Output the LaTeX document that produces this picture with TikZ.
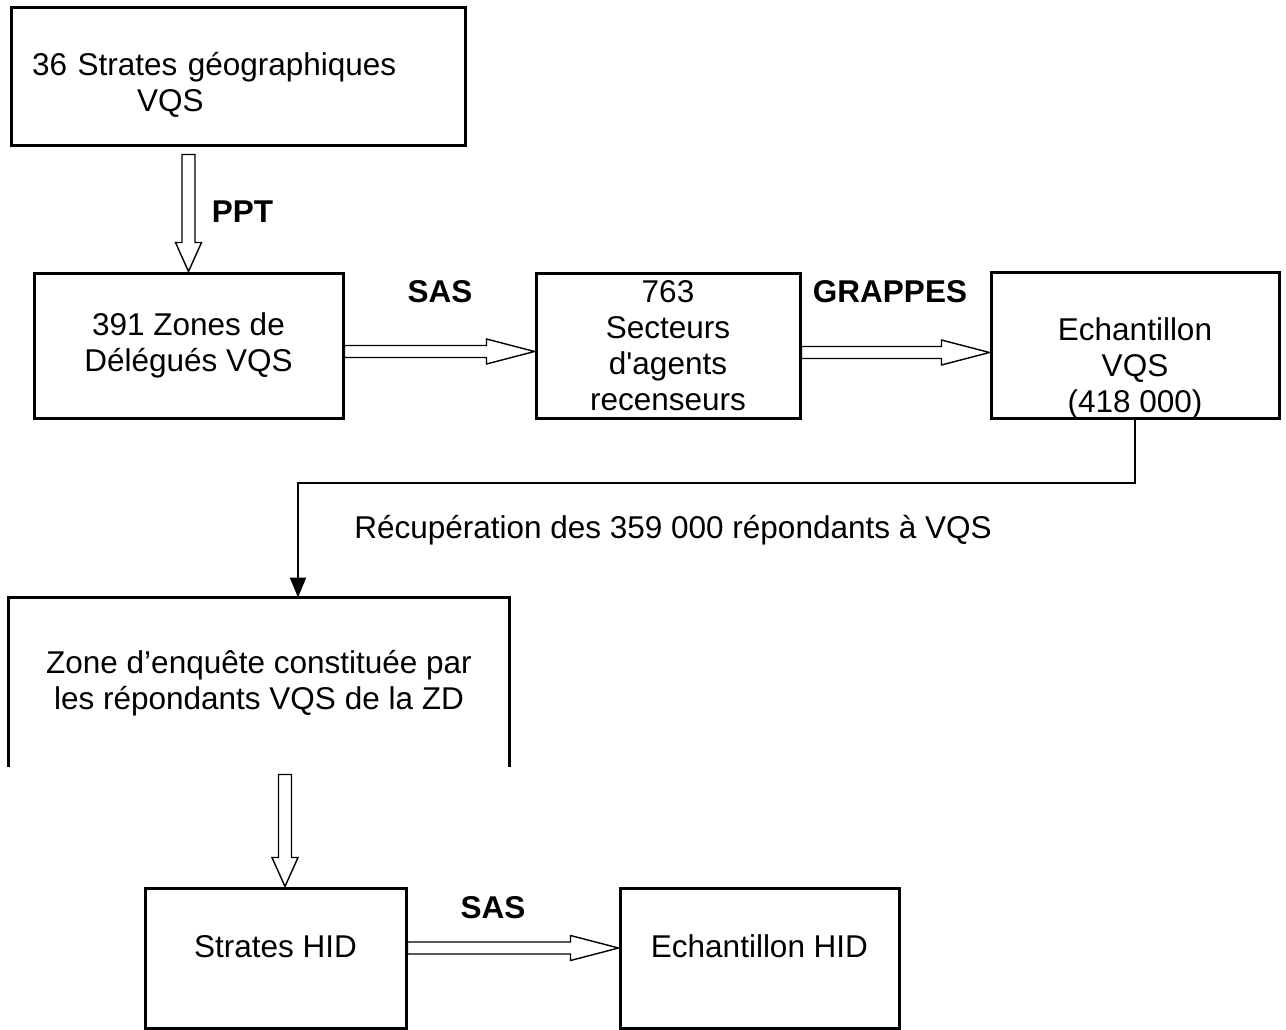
\documentclass[tikz,border=0pt]{standalone}
\usepackage{fontspec}
\setmainfont{Liberation Sans}[Ligatures=TeXOff]
\usetikzlibrary{arrows.meta,calc}
\newcommand\fs{\fontsize{31.5}{36}\selectfont}
\tikzset{
  box/.style={draw, line width=3pt, inner sep=0pt, align=center, font=\fs},
  lbl/.style={font=\fs\bfseries, inner sep=0pt},
  txt/.style={font=\fs, inner sep=0pt},
  hollow/.style={draw, line width=1.4pt, fill=white, line join=miter},
  conn/.style={line width=2pt},
}
% horizontal hollow arrow: #1 start, #2 tip
\newcommand\harr[2]{\draw[hollow] let \p1=(#1),\p2=(#2) in
  (\x1,\y2+6pt) -- (\x2-48pt,\y2+6pt) -- (\x2-48pt,\y2+12.5pt) -- (\x2,\y2)
  -- (\x2-48pt,\y2-12.5pt) -- (\x2-48pt,\y2-6pt) -- (\x1,\y2-6pt) -- cycle;}
% vertical hollow arrow: #1 start (y), #2 tip
\newcommand\varr[2]{\draw[hollow] let \p1=(#1),\p2=(#2) in
  (\x2-6.5pt,\y1) -- (\x2-6.5pt,\y2+29pt) -- (\x2-13pt,\y2+29pt) -- (\x2,\y2)
  -- (\x2+13pt,\y2+29pt) -- (\x2+6.5pt,\y2+29pt) -- (\x2+6.5pt,\y1) -- cycle;}
\begin{document}
\begin{tikzpicture}[x=1pt,y=-1pt]
\useasboundingbox (0,0) rectangle (1286,1030);
% boxes
\node[box, minimum width=454pt, minimum height=138pt, text width=412pt, align=left]
  (b1) at (238,77) {\mbox{}\\[3pt]36 Strates géographiques\\\hspace*{105pt}VQS};
\node[box, minimum width=309pt, minimum height=145pt] (b2) at (188.5,345.5)
  {391 Zones de\\Délégués VQS};
\node[box, minimum width=264pt, minimum height=145pt] (b3) at (668,345.5)
  {763\\Secteurs\\d'agents\\recenseurs};
\node[box, minimum width=288pt, minimum height=145pt] (b4) at (1135,345.5)
  {\mbox{}\\[32pt]Echantillon\\VQS\\(418 000)};
\node[box, draw=none, minimum width=498pt, minimum height=166pt] (b5) at (259,682)
  {Zone d’enquête constituée par\\les répondants VQS de la ZD\\[-32pt]\mbox{}};
\draw[line width=3pt] (b5.south west) -- (b5.north west) -- (b5.north east) -- (b5.south east);
\node[box, minimum width=261pt, minimum height=140pt] (b6) at (275.5,958)
  {Strates HID\\[-12pt]\mbox{}};
\node[box, minimum width=279pt, minimum height=140pt] (b7) at (759.5,958)
  {Echantillon HID\\[-12pt]\mbox{}};
% labels
\node[lbl] (lppt) at (242.5,212) {PPT};
\node[lbl] (lsas1) at (440,292) {SAS};
\node[lbl] (lgr) at (890,292) {GRAPPES};
\node[txt] (lrec) at (673,530) {Récupération des 359 000 répondants à VQS};
\node[lbl] (lsas2) at (493,908) {SAS};
% hollow arrows
\coordinate (v1s) at ($(b2.north |- b1.south)+(0,7)$);
\varr{v1s}{b2.north}
\coordinate (h1s) at ($(b2.east)+(0,6)$);
\coordinate (h1e) at ($(b3.west)+(0,6)$);
\harr{h1s}{h1e}
\coordinate (h2s) at ($(b3.east)+(0,7)$);
\coordinate (h2e) at ($(b4.west)+(0,7)$);
\harr{h2s}{h2e}
\coordinate (v2e) at ($(b6.north)+(9.5,0)$);
\coordinate (v2s) at ($(v2e |- b5.south)+(0,8)$);
\varr{v2s}{v2e}
\coordinate (h3s) at ($(b6.east)+(0,-10)$);
\coordinate (h3e) at ($(b7.west)+(0,-10)$);
\harr{h3s}{h3e}
% connector
\coordinate (c5) at ($(b5.north)+(39,0)$);
\draw[conn,-{Triangle[length=20pt,width=16pt]}] (b4.south) |- ($(c5)+(0,-115)$) -- (c5);
\end{tikzpicture}
\end{document}
